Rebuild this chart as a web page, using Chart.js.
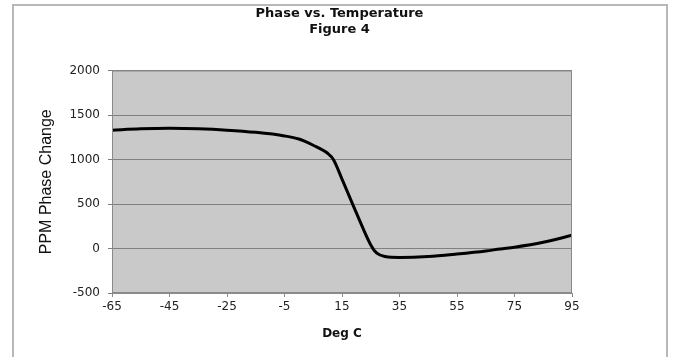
<!DOCTYPE html>
<html>
<head>
<meta charset="utf-8">
<script src="https://cdn.jsdelivr.net/npm/chart.js@4/dist/chart.umd.min.js"></script>
<style>
  html, body { margin: 0; padding: 0; background: #fff; }
  #wrap { position: relative; width: 673px; height: 357px; overflow: hidden; }
  #frame { position: absolute; left: 12px; top: 4px; width: 652px; height: 420px; border: 2px solid #b8b8b8; }
  #phaseChart { position: absolute; left: 0; top: 0; }
</style>
</head>
<body>
<div id="wrap">
  <div id="frame"></div>
  <canvas id="phaseChart" width="673" height="357"></canvas>
</div>
<script>
// temperature (deg C) and phase change (ppm)
const tempC = [-65, -55, -45, -35, -25, -15, -5, 0, 5, 10, 12, 15, 20, 25, 27, 30, 35, 45, 55, 65, 70, 75, 85, 95];
const phasePpm = [1330, 1345, 1350, 1345, 1330, 1305, 1265, 1230, 1160, 1070, 1000, 780, 400, 40, -50, -90, -100, -90, -62, -28, -5, 15, 70, 148];
const xTicks = [-65, -45, -25, -5, 15, 35, 55, 75, 95];
const yTicks = [-500, 0, 500, 1000, 1500, 2000];

const tickFont = { family: 'DejaVu Sans', size: 12 };

// gray plot background + border like the excel chart
const plotBg = {
    id: 'plotBg',
    beforeDraw(chart) {
        const a = chart.chartArea;
        const ctx = chart.ctx;
        ctx.save();
        ctx.fillStyle = '#c9c9c9';
        ctx.fillRect(a.left, a.top, a.right - a.left, a.bottom - a.top);
        ctx.restore();
    },
    afterDatasetsDraw(chart) {
        const a = chart.chartArea;
        const ctx = chart.ctx;
        ctx.save();
        ctx.strokeStyle = '#8a8a8a';
        ctx.lineWidth = 1;
        ctx.strokeRect(a.left + 0.5, a.top + 0.5, a.right - a.left - 1, a.bottom - a.top - 1);
        ctx.restore();
    }
};

new Chart(document.getElementById('phaseChart'), {
    type: 'line',
    data: {
        datasets: [{
            data: tempC.map((t, i) => ({ x: t, y: phasePpm[i] })),
            borderColor: '#000',
            borderWidth: 3,
            pointRadius: 0,
            fill: false,
            cubicInterpolationMode: 'monotone'
        }]
    },
    options: {
        responsive: false,
        animation: false,
        layout: { padding: { left: 13, right: 7, top: 0, bottom: 0 } },
        plugins: {
            legend: { display: false },
            tooltip: { enabled: false },
            title: {
                display: true,
                text: ['Phase vs. Temperature', 'Figure 4'],
                color: '#111',
                font: { family: 'DejaVu Sans', size: 13, weight: 'bold', lineHeight: 1.25 },
                padding: { top: 5, bottom: 33 }
            }
        },
        scales: {
            x: {
                type: 'linear',
                min: -65,
                max: 95,
                afterBuildTicks: s => { s.ticks = xTicks.map(v => ({ value: v })); },
                afterFit: s => { s.height = 64; },
                grid: { drawOnChartArea: false, tickLength: 4, color: '#8a8a8a' },
                border: { color: '#8a8a8a', width: 1 },
                ticks: { font: tickFont, color: '#222', padding: 3, maxRotation: 0, callback: v => String(v) },
                title: {
                    display: true,
                    text: 'Deg C',
                    color: '#111',
                    font: { family: 'DejaVu Sans', size: 12, weight: 'bold' },
                    padding: { top: 0, bottom: 16 }
                }
            },
            y: {
                min: -500,
                max: 2000,
                afterBuildTicks: s => { s.ticks = yTicks.map(v => ({ value: v })); },
                afterFit: s => { s.width = 99; },
                grid: { color: '#808080', tickLength: 4, lineWidth: 1 },
                border: { color: '#8a8a8a', width: 1 },
                ticks: { font: tickFont, color: '#222', padding: 8, callback: v => String(v) },
                title: {
                    display: true,
                    text: 'PPM Phase Change',
                    color: '#111',
                    font: { family: 'Liberation Sans', size: 16 },
                    padding: { top: 24, bottom: 0 }
                }
            },
            yRight: {
                position: 'right',
                display: true,
                afterFit: s => { s.width = 94; },
                grid: { display: false },
                border: { display: false },
                ticks: { display: false }
            }
        }
    },
    plugins: [plotBg]
});
</script>
</body>
</html>
